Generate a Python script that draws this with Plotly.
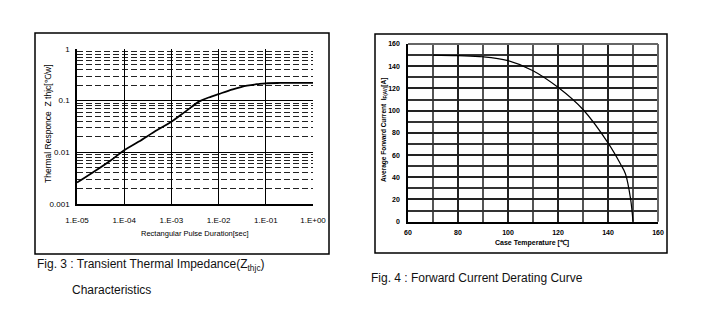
import plotly.graph_objects as go

# ---- Fig.3 data: transient thermal impedance ----
pulse_t = [1e-5, 2e-5, 5e-5, 1e-4, 2e-4, 5e-4, 1e-3, 2e-3, 4e-3, 7e-3, 1e-2, 2e-2, 4e-2, 7e-2, 1e-1, 2e-1, 5e-1, 1.0]
zthjc = [0.0026, 0.0039, 0.0068, 0.011, 0.016, 0.027, 0.039, 0.062, 0.098, 0.12, 0.134, 0.165, 0.195, 0.21, 0.217, 0.22, 0.22, 0.22]
x1_tickvals = [1e-5, 1e-4, 1e-3, 1e-2, 1e-1, 1.0]
x1_ticktext = ["1.E-05", "1.E-04", "1.E-03", "1.E-02", "1.E-01", "1.E+00"]
y1_tickvals = [0.001, 0.01, 0.1, 1]
y1_ticktext = ["0.001", "0.01", "0.1", "1"]
y1_minor = [m * 10 ** e for e in (-3, -2, -1) for m in range(2, 10)]

# ---- Fig.4 data: forward current derating ----
case_temp = [70, 80, 90, 100, 110, 120, 130, 140, 145, 147, 149, 150]
if_av = [150, 149.5, 148.5, 145, 136, 121, 101, 71, 52, 43, 21, 0]

W, H = 701, 315
def px(x): return x / W
def py(y): return 1 - y / H

FONT = "Liberation Sans Narrow, Liberation Sans, Arial, sans-serif"

fig = go.Figure()
fig.add_trace(go.Scatter(x=pulse_t, y=zthjc, mode="lines", line=dict(color="black", width=1.8, shape="spline"),
                         xaxis="x", yaxis="y", showlegend=False, hoverinfo="skip"))
fig.add_trace(go.Scatter(x=case_temp, y=if_av, mode="lines", line=dict(color="black", width=1.2, shape="spline"),
                         xaxis="x2", yaxis="y2", showlegend=False, hoverinfo="skip"))

fig.update_layout(
    template="none",
    width=W, height=H, margin=dict(l=0, r=0, t=0, b=0, pad=0, autoexpand=False),
    paper_bgcolor="white", plot_bgcolor="white", showlegend=False,
    font=dict(family=FONT, color="black"),
    xaxis=dict(type="log", range=[-5, 0], domain=[px(77), px(313)], anchor="y", automargin=False,
               tickmode="array", tickvals=x1_tickvals, ticktext=x1_ticktext,
               showgrid=True, gridcolor="black", gridwidth=1,
               showline=True, linecolor="black", linewidth=1.5, ticks="",
               tickfont=dict(size=8, family=FONT), ticklabelstandoff=8, zeroline=False),
    yaxis=dict(type="log", range=[-3, 0], domain=[py(204), py(49)], anchor="x", automargin=False,
               tickmode="array", tickvals=y1_tickvals, ticktext=y1_ticktext,
               showgrid=True, gridcolor="black", gridwidth=1,
               minor=dict(tickmode="array", tickvals=y1_minor,
                          showgrid=True, gridcolor="#222", gridwidth=1, griddash="6px,3px", ticks=""),
               showline=True, linecolor="black", linewidth=1.5, ticks="",
               tickfont=dict(size=8, family=FONT), ticklabelstandoff=4, zeroline=False),
    xaxis2=dict(range=[60, 160], domain=[px(408), px(658)], anchor="y2", automargin=False,
                tickmode="linear", tick0=60, dtick=20,
                showgrid=True, gridcolor="#222", gridwidth=1.5,
                minor=dict(dtick=10, showgrid=True, gridcolor="#555", gridwidth=1.8, ticks=""),
                showline=True, linecolor="black", linewidth=1.5, ticks="",
                tickfont=dict(size=7, family=FONT, weight="bold"), ticklabelstandoff=3, zeroline=False),
    yaxis2=dict(range=[0, 160], domain=[py(221.7), py(44)], anchor="x2", automargin=False,
                tickmode="linear", tick0=0, dtick=20,
                showgrid=True, gridcolor="#222", gridwidth=1.5,
                minor=dict(dtick=10, showgrid=True, gridcolor="#333", gridwidth=1.5, ticks=""),
                showline=True, linecolor="black", linewidth=1.5, ticks="",
                tickfont=dict(size=7, family=FONT, weight="bold"), ticklabelstandoff=5, zeroline=False),
)

shapes = [
    dict(type="rect", xref="paper", yref="paper", x0=px(35), x1=px(329), y0=py(254), y1=py(33),
         line=dict(color="black", width=1.5)),
    dict(type="rect", xref="paper", yref="paper", x0=px(375), x1=px(667), y0=py(253), y1=py(34),
         line=dict(color="black", width=1.5)),
    dict(type="line", xref="paper", yref="paper", x0=px(408), x1=px(658), y0=py(44), y1=py(44),
         line=dict(color="#666", width=2)),
    dict(type="line", xref="paper", yref="paper", x0=px(658), x1=px(658), y0=py(221.7), y1=py(44),
         line=dict(color="#666", width=2)),
]
fig.update_layout(shapes=shapes)

ann = [
    dict(text="Thermal Responce  Z thjc[℃/w]", x=px(48), y=py(124), textangle=-90, font=dict(size=8.5)),
    dict(text="Rectangular Pulse Duration[sec]", x=px(195), y=py(233), font=dict(size=7.5)),
    dict(text="Average Forward Current  I<sub>F(AV)</sub>[A]", x=px(384), y=py(130), textangle=-90,
         font=dict(size=6.5, weight="bold")),
    dict(text="Case Temperature [℃]", x=px(532), y=py(243), font=dict(size=7, weight="bold")),
    dict(text="Fig. 3 : Transient Thermal Impedance(Z<sub>thjc</sub>)", x=px(35), y=py(265), xanchor="left",
         font=dict(size=12, color="#111")),
    dict(text="Characteristics", x=px(70), y=py(290), xanchor="left", font=dict(size=12, color="#111")),
    dict(text="Fig. 4 : Forward Current Derating Curve", x=px(369), y=py(278), xanchor="left",
         font=dict(size=12, color="#111")),
]
for a in ann:
    a.setdefault("xanchor", "center")
    a.update(xref="paper", yref="paper", showarrow=False, yanchor="middle")
fig.update_layout(annotations=ann)

fig.write_html("out.html")
